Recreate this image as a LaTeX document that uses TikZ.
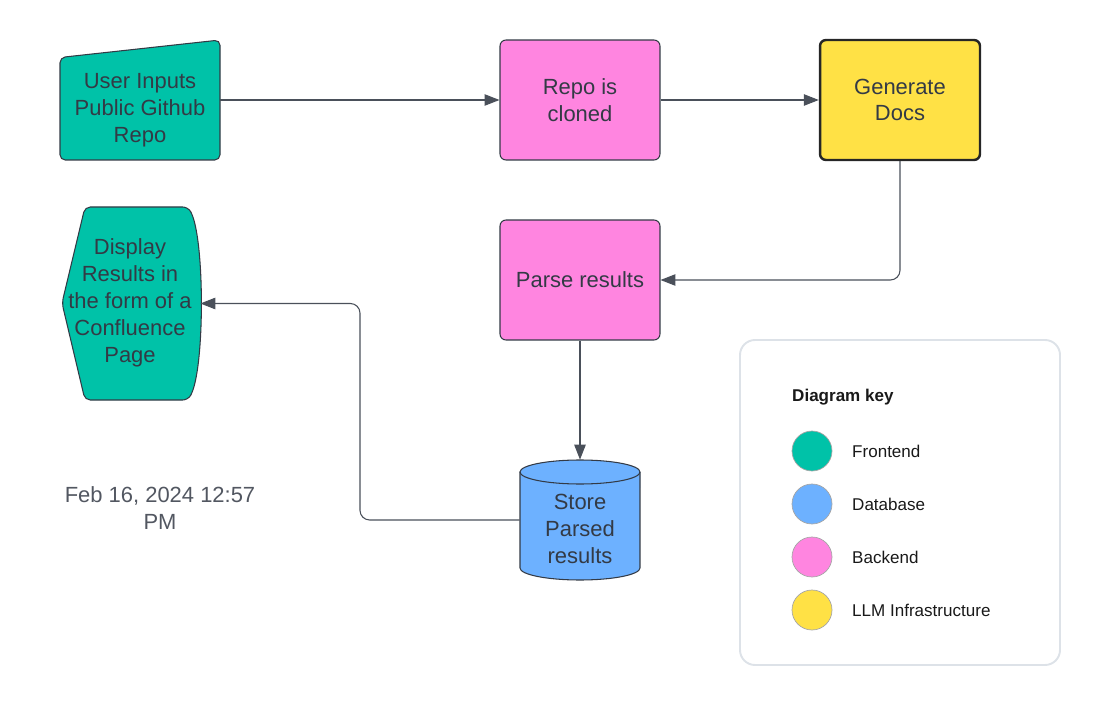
\documentclass[tikz,border=0pt]{standalone}
\usepackage{fontspec}
\setmainfont{Liberation Sans}
\usepackage{tikz}
\usetikzlibrary{arrows.meta}

\definecolor{frontc}{HTML}{00C2A8}
\definecolor{backc}{HTML}{FF85E0}
\definecolor{llmc}{HTML}{FFE145}
\definecolor{dbc}{HTML}{6DB1FF}
\definecolor{inkc}{HTML}{333A45}
\definecolor{linec}{HTML}{4A505A}
\definecolor{keyc}{HTML}{DDE2E8}

\tikzset{
  mainfont/.style={font=\fontsize{12.5}{15.3}\selectfont, text=inkc, align=center},
  keyfont/.style={font=\fontsize{9.7}{12}\selectfont, text=black!90},
  box/.style={draw=inkc, line width=0.6pt, rounded corners=3.4pt, minimum width=3.2cm, minimum height=2.4cm, mainfont},
  outline/.style={draw=inkc, line width=0.6pt, rounded corners=3pt},
  link/.style={draw=linec, line width=0.6pt, rounded corners=5.5pt, -{Triangle[length=8.5pt,width=6.5pt]}},
  keydot/.style={circle, draw=black!35, line width=0.4pt, minimum size=0.8cm, inner sep=0pt},
}

\begin{document}
\begin{tikzpicture}[x=0.02cm, y=-0.02cm]
\useasboundingbox (0,0) rectangle (1100,706);
% user input (manual input shape)
\node[minimum width=3.2cm, minimum height=2.4cm] (input) at (140,100) {};
\draw[outline, fill=frontc] (60,160) -- (60,57.5) -- (220,40) -- (220,160) -- cycle;
\node[mainfont] (inputtext) at (140,110) {User Inputs\\Public Github\\Repo};
% backend boxes
\node[box, fill=backc] (clone) at (580,100) {Repo is\\cloned};
\node[box, fill=llmc, line width=1.4pt, draw=black!85] (gen) at (900,100) {Generate\\Docs};
\node[box, fill=backc] (parse) at (580,280) {Parse results};
% display (display shape)
\node[minimum width=2.8cm, minimum height=3.86cm] (display) at (130,303.5) {};
\draw[outline, fill=frontc] (85,207) -- (62,303) -- (85,400) -- (188,400)
  .. controls (205,370) and (205,237) .. (188,207) -- cycle;
\node[mainfont] (displaytext) at (130,303) {Display\\Results in\\the form of a\\Confluence\\Page};
% database cylinder
\node[minimum width=2.4cm, minimum height=2.4cm] (store) at (580,520) {};
\draw[draw=inkc, line width=0.6pt, fill=dbc] (520,472) -- (520,568)
  arc[start angle=180, end angle=360, x radius=1.2cm, y radius=0.24cm] -- (640,472)
  arc[start angle=0, end angle=180, x radius=1.2cm, y radius=0.24cm] -- cycle;
\draw[draw=inkc, line width=0.6pt] (520,472) arc[start angle=180, end angle=360, x radius=1.2cm, y radius=0.24cm];
\node[mainfont] (storetext) at (580,529) {Store\\Parsed\\results};
% date
\node[mainfont, text=inkc!85] (date) at (160,508) {Feb 16, 2024 12:57\\PM};
% connectors
\coordinate (bend) at (360,520);
\draw[link] (input.east) -- (clone.west);
\draw[link] (clone.east) -- (gen.west);
\draw[link] (gen.south) |- (parse.east);
\draw[link] (parse.south) -- (store.north);
\draw[link] (store.west) -- (bend) |- (display.east);
% diagram key
\draw[draw=keyc, line width=1.1pt, rounded corners=0.3cm] (740,340) rectangle (1060,665);
\node[keyfont, font=\fontsize{9.7}{12}\selectfont\bfseries, anchor=west] (keytitle) at (786,397) {Diagram key};
\node[keydot, fill=frontc] (frontdot) at (812,451) {};
\node[keyfont, anchor=west] (frontlabel) at (846,451) {Frontend};
\node[keydot, fill=dbc] (dbdot) at (812,504) {};
\node[keyfont, anchor=west] (dblabel) at (846,504) {Database};
\node[keydot, fill=backc] (backdot) at (812,557) {};
\node[keyfont, anchor=west] (backlabel) at (846,557) {Backend};
\node[keydot, fill=llmc] (llmdot) at (812,610) {};
\node[keyfont, anchor=west] (llmlabel) at (846,610) {LLM Infrastructure};
\end{tikzpicture}
\end{document}
